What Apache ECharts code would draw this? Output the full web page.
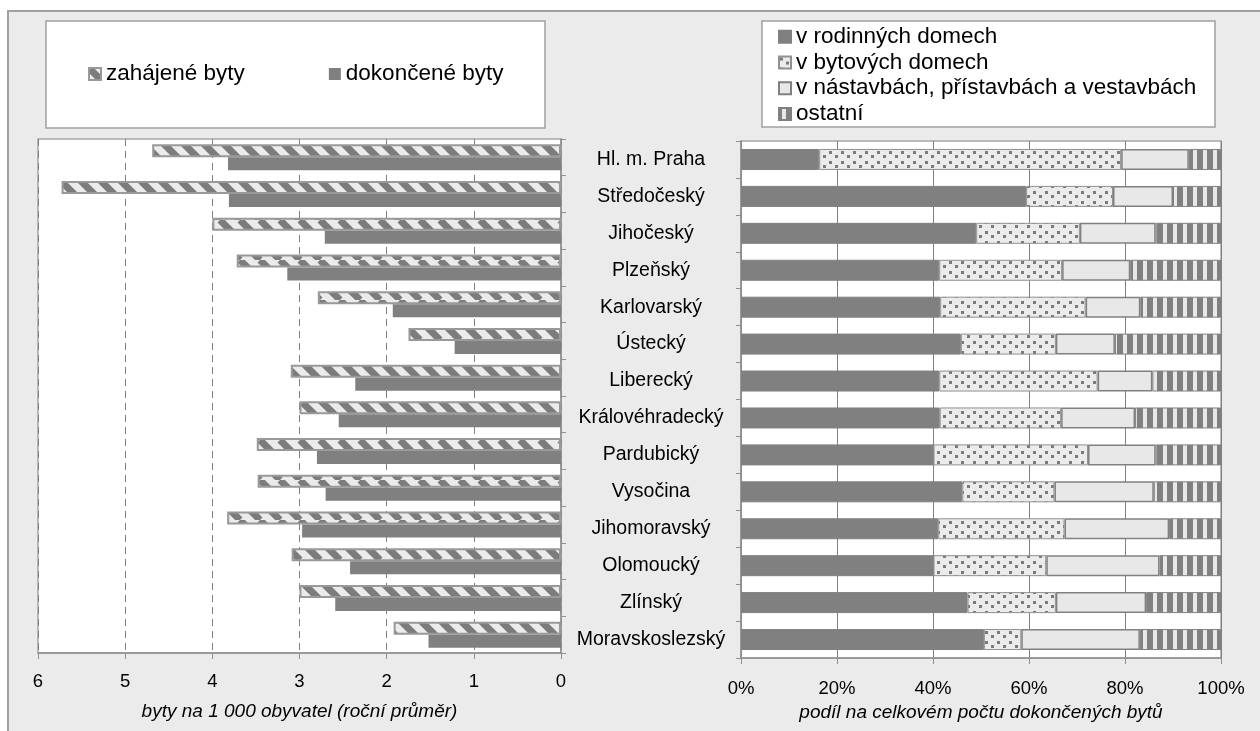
<!DOCTYPE html>
<html>
<head>
<meta charset="utf-8">
<script src="https://cdn.jsdelivr.net/npm/echarts@6/dist/echarts.min.js"></script>
<style>
html,body{margin:0;padding:0;background:#fff;}
#chart{width:1260px;height:731px;}
</style>
</head>
<body>
<div id="chart"></div>
<script>
// ---- data ----
const categories = ['Hl. m. Praha','Středočeský','Jihočeský','Plzeňský','Karlovarský','Ústecký','Liberecký','Královéhradecký','Pardubický','Vysočina','Jihomoravský','Olomoucký','Zlínský','Moravskoslezský'];
const zahajene  = [4.69,5.73,4.00,3.72,2.79,1.75,3.10,3.00,3.49,3.48,3.83,3.09,3.00,1.92];
const dokoncene = [3.82,3.81,2.71,3.14,1.93,1.22,2.36,2.55,2.80,2.70,2.97,2.42,2.59,1.52];
const rodinne   = [16.3,59.4,49.0,41.3,41.5,45.8,41.3,41.4,40.1,46.1,41.1,40.1,47.2,50.6];
const bytove    = [62.9,18.1,21.6,25.6,30.3,19.8,33.0,25.3,32.2,19.2,26.3,23.5,18.4,7.8];
const nastavby  = [14.1,12.5,15.8,14.2,11.4,12.3,11.4,15.4,14.1,20.7,21.8,23.6,18.8,24.7];
const ostatni   = [6.7,10.0,13.6,18.9,16.8,22.1,14.3,17.9,13.6,14.0,10.8,12.8,15.6,16.9];
const leftTicks = [0,1,2,3,4,5,6];
const rightTicks = [0,20,40,60,80,100];
const seriesNamesLeft = ['zahájené byty','dokončené byty'];
const seriesNamesRight = ['v rodinných domech','v bytových domech','v nástavbách, přístavbách a vestavbách','ostatní'];

// ---- patterns ----
function tile(w,h,draw){const c=document.createElement('canvas');c.width=w;c.height=h;draw(c.getContext('2d'),w,h);return {image:c,repeat:'repeat'};}
const diagPat = tile(20,20,(g,w,h)=>{
  g.fillStyle='#ebebeb';g.fillRect(0,0,w,h);
  g.strokeStyle='#7c7c7c';g.lineWidth=7;
  for(let k=-1;k<=1;k++){g.beginPath();g.moveTo(k*w,0);g.lineTo(k*w+w,h);g.stroke();}
});
const dotPat = tile(12,10,(g,w,h)=>{
  g.fillStyle='#ebebeb';g.fillRect(0,0,w,h);
  g.fillStyle='#7a7a7a';g.fillRect(1,1,3,3);g.fillRect(7,5,3,3);
});
const vstripePat = tile(10,10,(g,w,h)=>{
  g.fillStyle='#808080';g.fillRect(0,0,w,h);
  g.fillStyle='#e8e8e8';g.fillRect(3,0,4,h);
});

const FONT = '"Liberation Sans", Arial, sans-serif';
const chart = echarts.init(document.getElementById('chart'));
const option = {
  animation:false,
  backgroundColor:'#ffffff',
  textStyle:{fontFamily:FONT,color:'#000'},
  graphic:[
    {type:'rect',z:-20,shape:{x:8,y:11,width:1300,height:800},style:{fill:'#ebebeb',stroke:'#a0a0a0',lineWidth:2}},
    {type:'rect',z:-10,shape:{x:46,y:21,width:499,height:107},style:{fill:'#ffffff',stroke:'#a0a0a0',lineWidth:1.5}},
    {type:'rect',z:-10,shape:{x:762,y:21,width:453,height:106},style:{fill:'#ffffff',stroke:'#a0a0a0',lineWidth:1.5}}
  ],
  legend:[
    {data:seriesNamesLeft,orient:'horizontal',left:88,top:61,padding:0,itemWidth:12,itemHeight:12,itemGap:84,itemTextGap:5,icon:'rect',
     textStyle:{fontFamily:FONT,fontSize:22.5,color:'#000',lineHeight:26}},
    {data:seriesNamesRight,orient:'vertical',left:778,top:24,padding:0,itemWidth:12,itemHeight:12,itemGap:0,itemTextGap:8,icon:'rect',
     textStyle:{fontFamily:FONT,fontSize:22.5,color:'#000',lineHeight:25.7}}
  ],
  grid:[
    {left:38,top:139,width:523,height:514,show:true,backgroundColor:'#fff',borderColor:'#a6a6a6',borderWidth:1.5},
    {left:741,top:141,width:480,height:517,show:true,backgroundColor:'#fff',borderColor:'#a6a6a6',borderWidth:1.5}
  ],
  xAxis:[
    {gridIndex:0,type:'value',min:leftTicks[0],max:leftTicks[leftTicks.length-1],interval:1,inverse:true,
     axisLine:{show:true,lineStyle:{color:'#909090',width:1.5}},
     axisTick:{show:true,length:6,lineStyle:{color:'#909090'}},
     axisLabel:{fontFamily:FONT,fontSize:18.5,color:'#000',margin:19},
     splitLine:{show:true,lineStyle:{color:'#808080',type:[7,5],width:1}},
     name:'byty na 1 000 obyvatel (roční průměr)',nameLocation:'middle',nameGap:49,
     nameTextStyle:{fontFamily:FONT,fontSize:19,fontStyle:'italic',color:'#000'}},
    {gridIndex:1,type:'value',min:rightTicks[0],max:rightTicks[rightTicks.length-1],interval:20,
     axisLine:{show:true,lineStyle:{color:'#909090',width:1.5}},
     axisTick:{show:true,length:6,lineStyle:{color:'#909090'}},
     axisLabel:{fontFamily:FONT,fontSize:18.5,color:'#000',margin:21,formatter:'{value}%'},
     splitLine:{show:true,lineStyle:{color:'#808080',width:1}},
     name:'podíl na celkovém počtu dokončených bytů',nameLocation:'middle',nameGap:43,
     nameTextStyle:{fontFamily:FONT,fontSize:19,fontStyle:'italic',color:'#000'}}
  ],
  yAxis:[
    {gridIndex:0,type:'category',data:categories,inverse:true,position:'right',
     axisLine:{show:true,lineStyle:{color:'#909090',width:1.5}},
     axisTick:{show:true,length:5,lineStyle:{color:'#909090'}},
     axisLabel:{show:false},splitLine:{show:false}},
    {gridIndex:1,type:'category',data:categories,inverse:true,position:'left',
     axisLine:{show:true,lineStyle:{color:'#909090',width:1.5}},
     axisTick:{show:true,length:5,lineStyle:{color:'#909090'}},
     axisLabel:{show:true,align:'center',margin:90,fontFamily:FONT,fontSize:19.5,color:'#000'},
     splitLine:{show:false}}
  ],
  series:[
    {name:seriesNamesLeft[0],type:'bar',xAxisIndex:0,yAxisIndex:0,data:zahajene,barWidth:13,barGap:'0%',
     itemStyle:{color:diagPat,borderColor:'#999999',borderWidth:2}},
    {name:seriesNamesLeft[1],type:'bar',xAxisIndex:0,yAxisIndex:0,data:dokoncene,barWidth:13,barGap:'0%',
     itemStyle:{color:'#808080'}},
    {name:seriesNamesRight[0],type:'bar',stack:'s',xAxisIndex:1,yAxisIndex:1,data:rodinne,barWidth:21,
     itemStyle:{color:'#808080',borderColor:'#808080',borderWidth:1}},
    {name:seriesNamesRight[1],type:'bar',stack:'s',xAxisIndex:1,yAxisIndex:1,data:bytove,barWidth:21,
     itemStyle:{color:dotPat,borderColor:'#909090',borderWidth:1}},
    {name:seriesNamesRight[2],type:'bar',stack:'s',xAxisIndex:1,yAxisIndex:1,data:nastavby,barWidth:21,
     itemStyle:{color:'#e8e8e8',borderColor:'#808080',borderWidth:1.5}},
    {name:seriesNamesRight[3],type:'bar',stack:'s',xAxisIndex:1,yAxisIndex:1,data:ostatni,barWidth:21,
     itemStyle:{color:vstripePat,borderColor:'#808080',borderWidth:1}}
  ]
};
chart.setOption(option);
</script>
</body>
</html>
